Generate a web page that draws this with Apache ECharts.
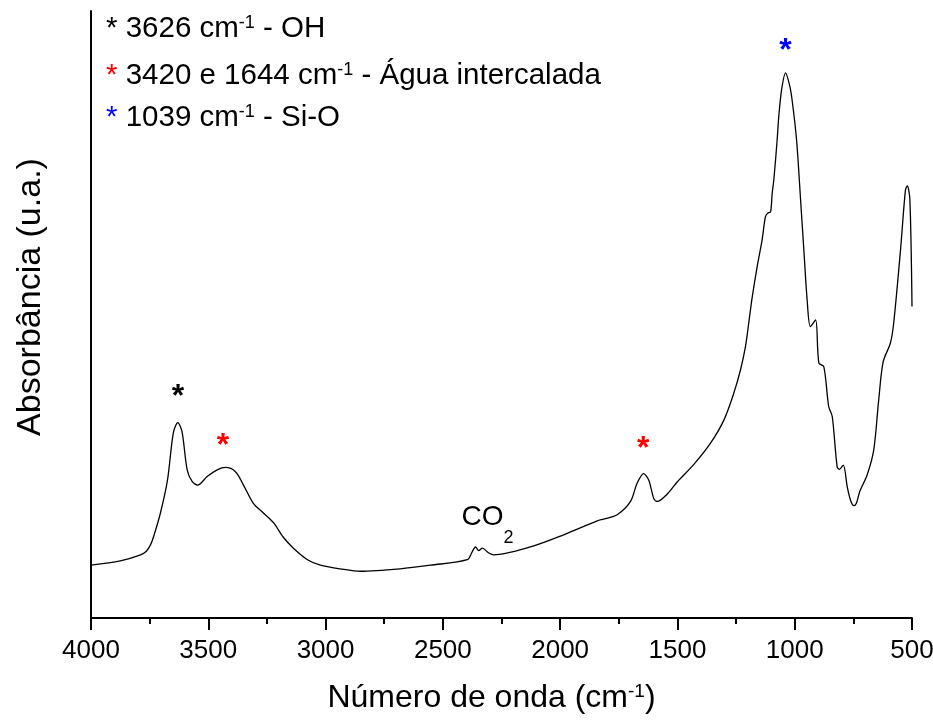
<!DOCTYPE html>
<html>
<head>
<meta charset="utf-8">
<script src="https://cdn.jsdelivr.net/npm/echarts@6/dist/echarts.min.js"></script>
<style>
  html, body { margin: 0; padding: 0; background: #fff; }
  #main { width: 933px; height: 722px; }
</style>
</head>
<body>
<div id="main"></div>
<script>
// espectro FTIR
var wavenumber = [4000, 3875, 3789, 3764, 3747, 3734, 3704, 3674, 3649, 3630, 3612,
  3590, 3569, 3545, 3505, 3462, 3427, 3384, 3350, 3308, 3265,
  3222, 3180, 3137, 3077, 3022, 2937, 2851, 2681, 2553, 2396,
  2375, 2361, 2347, 2332, 2304, 2283, 2127, 1985, 1842, 1814,
  1757, 1700, 1672, 1644, 1622, 1601, 1586, 1544, 1501, 1430,
  1359, 1302, 1260, 1231, 1210, 1196, 1181, 1160, 1139, 1125,
  1115, 1103, 1096, 1089,
  1075, 1068, 1056, 1039, 1022, 1011, 992, 975, 961, 947,
  933, 911, 897, 876, 855, 840, 819, 809, 793, 776,
  762, 748, 737, 723, 691, 663, 642, 623, 592, 578,
  549, 528, 520, 509, 500];
var absorbance = [0.087, 0.094, 0.104, 0.110, 0.120, 0.133, 0.173, 0.227, 0.305, 0.322, 0.307,
  0.244, 0.225, 0.219, 0.233, 0.244, 0.248, 0.241, 0.219, 0.189, 0.173,
  0.157, 0.133, 0.115, 0.096, 0.087, 0.081, 0.077, 0.081, 0.087, 0.096,
  0.109, 0.117, 0.111, 0.115, 0.107, 0.104, 0.117, 0.137, 0.160, 0.163,
  0.170, 0.192, 0.222, 0.238, 0.227, 0.197, 0.192, 0.204, 0.224, 0.253,
  0.288, 0.326, 0.370, 0.409, 0.447, 0.486, 0.529, 0.579, 0.623, 0.661,
  0.667, 0.669, 0.700, 0.722,
  0.787, 0.826, 0.870, 0.898, 0.878, 0.853, 0.787, 0.689, 0.606, 0.524,
  0.480, 0.491, 0.420, 0.414, 0.348, 0.332, 0.249, 0.245, 0.252, 0.216,
  0.194, 0.185, 0.189, 0.208, 0.236, 0.277, 0.359, 0.422, 0.453, 0.486,
  0.606, 0.705, 0.712, 0.689, 0.513];

// asteriscos sobre as bandas
var starWn = [3629, 3437, 1646, 1039];
var starAbs = [0.377, 0.296, 0.292, 0.947];
var starColor = ['#000000', '#ff0000', '#ff0000', '#0000ff'];

// rótulo do CO2
var co2Wn = 2310;
var co2Abs = 0.166;

var xTicks = [4000, 3500, 3000, 2500, 2000, 1500, 1000, 500];

var legendLines = [
  { star: '#000000', text: '3626 cm{sup|-1} - OH' },
  { star: '#ff0000', text: '3420 e 1644 cm{sup|-1} - Água intercalada' },
  { star: '#0000ff', text: '1039 cm{sup|-1} - Si-O' }
];

var font = 'Liberation Sans, Arial, sans-serif';
var chart = echarts.init(document.getElementById('main'));

var spectrum = wavenumber.map(function (w, i) { return [w, absorbance[i]]; });

var marks = starWn.map(function (w, i) {
  return {
    coord: [w, starAbs[i]],
    label: { color: starColor[i] }
  };
});

var legendTop = [14, 61, 103];
var graphics = legendLines.map(function (l, i) {
  return {
    type: 'text',
    left: 106,
    top: legendTop[i],
    style: {
      text: '{s|*} ' + l.text,
      fontFamily: font,
      fontSize: 29.5,
      lineHeight: 30,
      fill: '#000',
      rich: {
        s: { fontFamily: font, fontSize: 29.5, lineHeight: 30, fill: l.star },
        sup: { fontFamily: font, fontSize: 18, lineHeight: 2, verticalAlign: 'top', fill: '#000' }
      }
    }
  };
});

var option = {
  animation: false,
  backgroundColor: '#fff',
  grid: { left: 91, right: 21, top: 11, bottom: 104, containLabel: false, outerBoundsMode: 'none' },
  xAxis: {
    type: 'value',
    inverse: true,
    min: 500,
    max: 4000,
    interval: 500,
    name: 'Número de onda (cm{sup|-1})',
    nameLocation: 'middle',
    nameGap: 64,
    nameTextStyle: {
      fontFamily: font,
      fontSize: 32,
      lineHeight: 32,
      color: '#000',
      padding: [0, 20, 0, 0],
      rich: {
        sup: { fontFamily: font, fontSize: 19, lineHeight: 4, verticalAlign: 'top', color: '#000' }
      }
    },
    axisLine: { show: true, onZero: false, lineStyle: { color: '#000', width: 2 } },
    axisTick: { show: true, inside: false, length: 12, lineStyle: { color: '#000', width: 2 } },
    minorTick: { show: true, splitNumber: 2, length: 6, lineStyle: { color: '#000', width: 2 } },
    axisLabel: {
      fontFamily: font, fontSize: 26, color: '#000', margin: 20,
      showMinLabel: true, showMaxLabel: true,
      formatter: function (v) { return xTicks.indexOf(v) >= 0 ? String(v) : ''; }
    },
    splitLine: { show: false }
  },
  yAxis: {
    type: 'value',
    min: 0,
    max: 1,
    name: 'Absorbância (u.a.)',
    nameLocation: 'middle',
    nameGap: 43,
    nameTextStyle: {
      fontFamily: font, fontSize: 34, color: '#000',
      padding: [0, 0, 0, 35]
    },
    axisLine: { show: true, onZero: false, lineStyle: { color: '#000', width: 2 } },
    axisTick: { show: false },
    axisLabel: { show: false },
    splitLine: { show: false }
  },
  graphic: graphics,
  series: [
    {
      type: 'line',
      data: spectrum,
      showSymbol: false,
      smooth: 0.3,
      lineStyle: { color: '#000', width: 1.3 },
      markPoint: {
        symbol: 'circle',
        symbolSize: 1,
        itemStyle: { color: 'rgba(0,0,0,0)' },
        label: {
          show: true,
          position: 'inside',
          formatter: '*',
          fontFamily: font,
          fontSize: 32,
          fontWeight: 'bold',
          offset: [0, 8]
        },
        data: marks.concat([{
          coord: [co2Wn, co2Abs],
          label: {
            formatter: 'CO{sub|2}',
            fontWeight: 'normal',
            fontSize: 28,
            lineHeight: 28,
            color: '#000',
            offset: [0, 0],
            rich: {
              sub: { fontFamily: font, fontSize: 18, lineHeight: 10, padding: [26, 0, 0, 0], verticalAlign: 'top', color: '#000' }
            }
          }
        }])
      }
    }
  ]
};

chart.setOption(option);
</script>
</body>
</html>
